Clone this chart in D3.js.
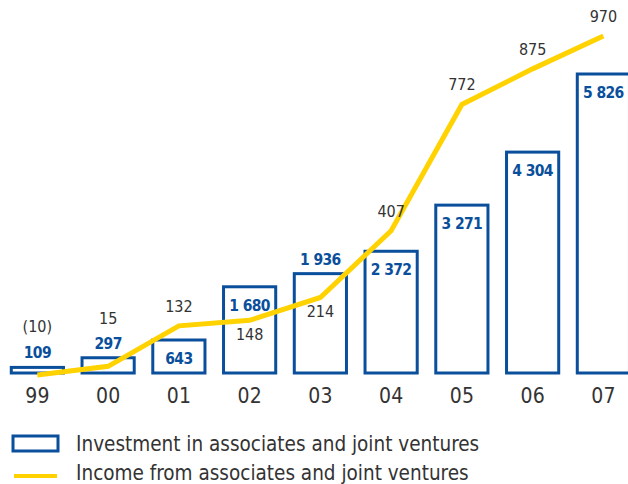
<!DOCTYPE html>
<html><head><meta charset="utf-8">
<script src="https://cdn.jsdelivr.net/npm/d3@7"></script>
<style>body{margin:0;background:#fff}svg{display:block}</style>
</head><body>
<script>
const years = ["99","00","01","02","03","04","05","06","07"];
const investment = [109, 297, 643, 1680, 1936, 2372, 3271, 4304, 5826];
const income = [-10, 15, 132, 148, 214, 407, 772, 875, 970];
const incomeLabels = ["(10)","15","132","148","214","407","772","875","970"];
const investmentLabels = ["109","297","643","1 680","1 936","2 372","3 271","4 304","5 826"];
const incomeLabelPos = ["above","above","above","below","below","above","above","above","above"];
const investLabelPos = ["above","above","inside","inside","above","inside","inside","inside","inside"];
const legendItems = ["Investment in associates and joint ventures","Income from associates and joint ventures"];

const W = 628, H = 484;
const blue = "#0a4f9c", yellow = "#ffd200", txt = "#333";
const font = "'DejaVu Sans Condensed','DejaVu Sans',sans-serif";
const svg = d3.select("body").append("svg").attr("width", W).attr("height", H);

const x = d3.scaleBand().domain(years).range([2, 638.75]).paddingInner(0.22).paddingOuter(0.11);
const yBar = d3.scaleLinear().domain([0, 5826]).range([373, 74]);
const yLine = d3.scaleLinear().domain([0, 970]).range([371.5, 36]);

// bars
svg.selectAll("rect.bar").data(investment).join("rect")
  .attr("x", (d,i) => x(years[i]) + 1.5)
  .attr("y", d => yBar(d))
  .attr("width", x.bandwidth() - 3)
  .attr("height", d => yBar(0) - yBar(d))
  .attr("fill", "#fff").attr("stroke", blue).attr("stroke-width", 3);

// line
const line = d3.line().x((d,i) => x(years[i]) + x.bandwidth()/2).y(d => yLine(d));
svg.append("path").datum(income).attr("d", line)
  .attr("fill", "none").attr("stroke", yellow).attr("stroke-width", 5).attr("stroke-linejoin", "miter");

// investment labels
svg.selectAll("text.inv").data(investment).join("text")
  .attr("x", (d,i) => x(years[i]) + x.bandwidth()/2)
  .attr("y", (d,i) => investLabelPos[i] === "inside" ? yBar(d) + 24 : yBar(d) - 9)
  .attr("text-anchor", "middle").attr("font-family", font).attr("font-weight", "bold")
  .attr("font-size", 15.5).attr("letter-spacing", "-0.6px").attr("fill", blue)
  .text((d,i) => investmentLabels[i]);

// income labels
svg.selectAll("text.inc").data(income).join("text")
  .attr("x", (d,i) => x(years[i]) + x.bandwidth()/2)
  .attr("y", (d,i) => {
    if (i === 0) return 332;
    if (i === 1) return 324;
    return incomeLabelPos[i] === "below" ? yLine(d) + 20 : yLine(d) - 14;
  })
  .attr("text-anchor", "middle").attr("font-family", font)
  .attr("font-size", 16).attr("fill", txt)
  .text((d,i) => incomeLabels[i]);

// axis
const axis = svg.append("g").attr("transform", "translate(0,373)")
  .call(d3.axisBottom(x).tickSize(0).tickPadding(10));
axis.select(".domain").remove();
axis.selectAll("text").attr("font-family", font).attr("font-size", 21).attr("fill", txt).attr("dy", "0.95em");

// legend
const lg = svg.append("g");
lg.append("rect").attr("x", 13).attr("y", 436).attr("width", 45).attr("height", 15)
  .attr("fill", "#fff").attr("stroke", blue).attr("stroke-width", 3);
lg.append("line").attr("x1", 14).attr("x2", 57).attr("y1", 476).attr("y2", 476)
  .attr("stroke", yellow).attr("stroke-width", 4);
lg.selectAll("text").data(legendItems).join("text")
  .attr("x", 76).attr("y", (d,i) => 451 + i*29)
  .attr("font-family", font).attr("font-size", 20.5).attr("fill", txt)
  .text(d => d);
</script>
</body></html>
